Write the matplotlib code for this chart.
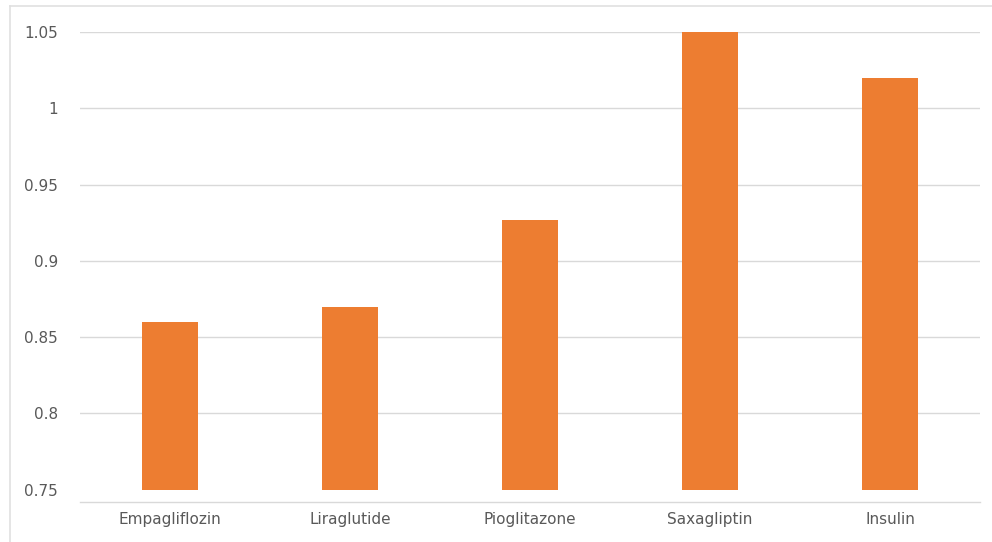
import matplotlib.pyplot as plt
from matplotlib.lines import Line2D

# drug names and values
drugs = ['Empagliflozin', 'Liraglutide', 'Pioglitazone', 'Saxagliptin', 'Insulin']
values = [0.86, 0.87, 0.927, 1.05, 1.02]
yticks = [0.75, 0.8, 0.85, 0.9, 0.95, 1.0, 1.05]
ytick_labels = ['0.75', '0.8', '0.85', '0.9', '0.95', '1', '1.05']

base = 0.75
bar_color = '#ED7D31'
grid_color = '#D9D9D9'
text_color = '#595959'

fig = plt.figure(figsize=(9.92, 5.42), dpi=100)
ax = fig.add_axes([80 / 992, 40 / 542, 900 / 992, 470 / 542])

x = list(range(len(drugs)))
heights = [v - base for v in values]
ax.bar(x, heights, bottom=base, width=0.31, color=bar_color, zorder=3)

ax.set_xlim(-0.5, len(drugs) - 0.5)
ax.set_ylim(0.742, 1.05)
ax.set_yticks(yticks)
ax.set_yticklabels(ytick_labels)
ax.set_xticks(x)
ax.set_xticklabels(drugs)

# light horizontal gridlines (skip the baseline)
for t in yticks[1:]:
    ax.axhline(t, color=grid_color, linewidth=1, zorder=1)

for s in ['top', 'right', 'left']:
    ax.spines[s].set_visible(False)
ax.spines['bottom'].set_color(grid_color)
ax.spines['bottom'].set_linewidth(1)

ax.tick_params(axis='both', length=0, colors=text_color, labelsize=11)
ax.tick_params(axis='y', pad=16)
ax.tick_params(axis='x', pad=7)

# thin frame around the image (top and left)
fig.add_artist(Line2D([10 / 992, 1.0], [1 - 6 / 542, 1 - 6 / 542], color='#E0E0E0', linewidth=1.2))
fig.add_artist(Line2D([10 / 992, 10 / 992], [0.0, 1 - 6 / 542], color='#E0E0E0', linewidth=1.2))

fig.savefig('out.png', dpi=100, facecolor='white')
